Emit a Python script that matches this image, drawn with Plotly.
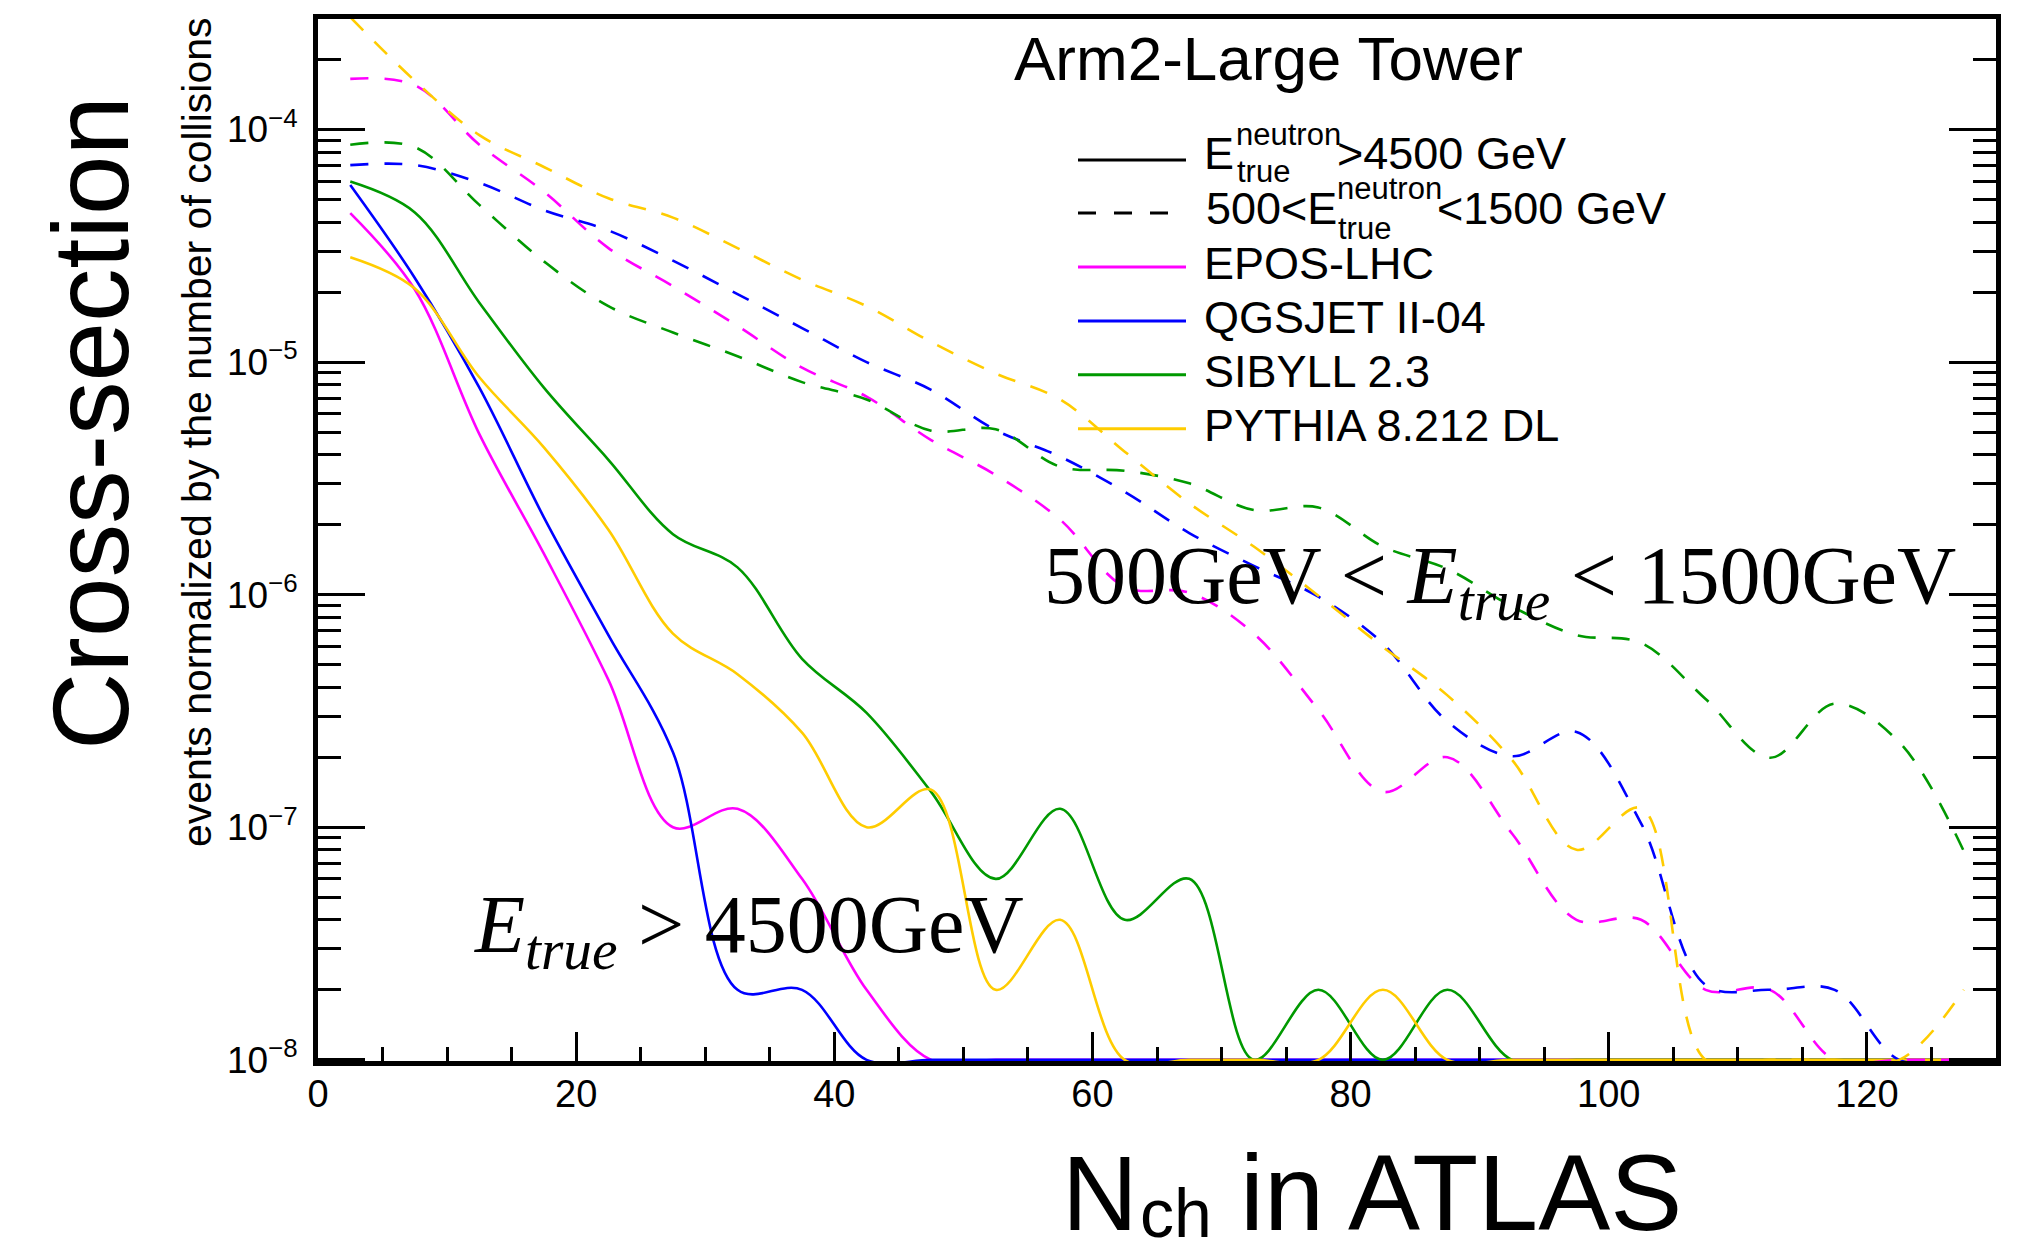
import plotly.graph_objects as go

# ---------------------------------------------------------------------------
# Data: events per N_ch bin, normalised by the number of collisions
# (Arm2 large tower, neutron energy selections, four hadronic interaction models)
# ---------------------------------------------------------------------------
nch = [2.5, 7.5, 12.5, 17.5, 22.5, 27.5, 32.5, 37.5, 42.5, 47.5, 52.5, 57.5, 62.5,
       67.5, 72.5, 77.5, 82.5, 87.5, 92.5, 97.5, 102.5, 107.5, 112.5, 117.5, 122.5, 127.5]

# E_true > 4500 GeV
epos_high = [4.37e-5, 2.05e-5, 4.9e-6, 1.5e-6, 4.3e-7, 1.0e-7, 1.2e-7, 6e-8, 2e-8, 0, 0, 0, 0,
             0, 0, 0, 0, 0, 0, 0, 0, 0, 0, 0, 0, 0]
qgsjet_high = [5.77e-5, 2.3e-5, 7.76e-6, 2.15e-6, 6.7e-7, 2.1e-7, 2e-8, 2e-8, 0, 0, 0, 0, 0,
               0, 0, 0, 0, 0, 0, 0, 0, 0, 0, 0, 0, 0]
sibyll_high = [5.97e-5, 4.4e-5, 1.8e-5, 7.76e-6, 3.8e-6, 1.82e-6, 1.31e-6, 5.3e-7, 3.1e-7,
               1.42e-7, 6e-8, 1.2e-7, 4e-8, 6e-8, 0, 2e-8, 0, 2e-8, 0, 0, 0, 0, 0, 0, 0, 0]
pythia_high = [2.82e-5, 2.07e-5, 8.6e-6, 4.3e-6, 1.9e-6, 6.8e-7, 4.55e-7, 2.55e-7, 1e-7,
               1.45e-7, 2e-8, 4e-8, 0, 0, 0, 0, 2e-8, 0, 0, 0, 0, 0, 0, 0, 0, 0]

# 500 GeV < E_true < 1500 GeV
epos_mid = [1.65e-4, 1.55e-4, 8.6e-5, 5.4e-5, 3.09e-5, 2.12e-5, 1.43e-5, 9.46e-6, 7.1e-6,
            4.62e-6, 3.27e-6, 2.1e-6, 1.08e-6, 1.02e-6, 6.8e-7, 3.2e-7, 1.42e-7, 2e-7,
            9.4e-8, 4e-8, 4e-8, 2e-8, 2e-8, 0, 0, 0]
qgsjet_mid = [7.03e-5, 7.03e-5, 5.9e-5, 4.5e-5, 3.68e-5, 2.73e-5, 1.96e-5, 1.4e-5, 1.0e-5,
              7.6e-6, 5.1e-6, 3.92e-6, 2.77e-6, 1.84e-6, 1.33e-6, 9.8e-7, 6.17e-7, 2.85e-7,
              2.02e-7, 2.57e-7, 1.04e-7, 2.1e-8, 2e-8, 2e-8, 0, 0]
sibyll_mid = [8.6e-5, 8.4e-5, 4.74e-5, 2.71e-5, 1.74e-5, 1.34e-5, 1.06e-5, 8.2e-6, 6.9e-6,
              5.07e-6, 5.14e-6, 3.55e-6, 3.41e-6, 3.01e-6, 2.31e-6, 2.37e-6, 1.61e-6, 1.29e-6,
              8.9e-7, 6.7e-7, 6.2e-7, 3.56e-7, 1.99e-7, 3.4e-7, 2.32e-7, 7.9e-8]
pythia_mid = [3.04e-4, 1.62e-4, 9.46e-5, 6.9e-5, 5.06e-5, 4.18e-5, 3.09e-5, 2.26e-5, 1.74e-5,
              1.22e-5, 8.93e-6, 6.9e-6, 4.12e-6, 2.47e-6, 1.61e-6, 9.9e-7, 5.96e-7, 3.69e-7,
              1.95e-7, 8e-8, 1.21e-7, 0, 0, 0, 0, 2e-8]

models = ["EPOS-LHC", "QGSJET II-04", "SIBYLL 2.3", "PYTHIA 8.212 DL"]
colors = ["#ff00ff", "#0000ff", "#009900", "#ffcc00"]
high_sets = [epos_high, qgsjet_high, sibyll_high, pythia_high]
mid_sets = [epos_mid, qgsjet_mid, sibyll_mid, pythia_mid]

y_decades = [1e-8, 1e-7, 1e-6, 1e-5, 1e-4]
y_decade_text = ["10<sup>\u22128</sup>", "10<sup>\u22127</sup>", "10<sup>\u22126</sup>",
                 "10<sup>\u22125</sup>", "10<sup>\u22124</sup>"]
x_ticks = [0, 20, 40, 60, 80, 100, 120]

Y_FLOOR = 1e-8          # empty bins sit on the frame minimum of the log scale
LOG_RANGE = [-8.005, -3.525]

SANS = "Liberation Sans, Arial, Helvetica, sans-serif"
SERIF = "Liberation Serif, Times New Roman, serif"

W, H = 2029, 1238
L, R, T, B = 318, 1996, 19, 1061   # plot-area edges in pixels


def px(x):
    return (x - L) / (R - L)


def py(y):
    return (B - y) / (B - T)


def on_axis(vals):
    return [v if v > Y_FLOOR else Y_FLOOR for v in vals]


fig = go.Figure()

for name, col, hi in zip(models, colors, high_sets):
    fig.add_trace(go.Scatter(
        x=nch, y=on_axis(hi), mode="lines", name=name + " (E>4500 GeV)",
        line=dict(color=col, width=2.6, shape="spline", smoothing=1.0),
        showlegend=False, hoverinfo="skip"))

for name, col, md in zip(models, colors, mid_sets):
    fig.add_trace(go.Scatter(
        x=nch, y=on_axis(md), mode="lines", name=name + " (500-1500 GeV)",
        line=dict(color=col, width=2.6, shape="spline", smoothing=1.0, dash="18px,16px"),
        showlegend=False, hoverinfo="skip"))

minor_vals = [k * d for d in [1e-8, 1e-7, 1e-6, 1e-5, 1e-4] for k in range(2, 10)
              if k * d < 3e-4]

fig.update_xaxes(
    range=[0, 130], showgrid=False, zeroline=False,
    showline=True, linecolor="black", linewidth=5, mirror=True,
    tickmode="array", tickvals=x_ticks, ticktext=[str(t) for t in x_ticks],
    ticks="inside", ticklen=29, tickwidth=2.5, tickcolor="black",
    minor=dict(dtick=5, tick0=0, ticks="inside", ticklen=14, tickwidth=2.5,
               tickcolor="black", showgrid=False),
    tickfont=dict(family=SANS, size=38, color="black"),
    ticklabelstandoff=-5)

fig.update_yaxes(
    type="log", range=LOG_RANGE, showgrid=False, zeroline=False,
    showline=True, linecolor="black", linewidth=5, mirror="ticks",
    tickmode="array", tickvals=y_decades, ticktext=y_decade_text,
    ticks="inside", ticklen=47, tickwidth=2.5, tickcolor="black",
    minor=dict(tickmode="array", tickvals=minor_vals, ticks="inside", ticklen=23,
               tickwidth=2.5, tickcolor="black", showgrid=False),
    tickfont=dict(family=SANS, size=37, color="black"),
    ticklabelstandoff=8)

ann = []


def text(x, y, s, size, family=SANS, xanchor="left", yanchor="middle", angle=0):
    ann.append(dict(x=px(x), y=py(y), xref="paper", yref="paper", text=s,
                    showarrow=False, xanchor=xanchor, yanchor=yanchor,
                    textangle=angle, font=dict(family=family, size=size, color="black")))


# axis titles
text(91, 423, "Cross-section", 107, xanchor="center", angle=-90)
text(197, 432, "events normalized by the number of collisions", 41, xanchor="center", angle=-90)
text(1060, 1193, "N", 105)
text(1138, 1213, "ch", 68)
text(1238, 1192, "in ATLAS", 108)

# panel title
text(1012, 59, "Arm2-Large Tower", 62)

# energy-range labels
text(472, 930, "<i>E<sub>true</sub></i> &gt; 4500GeV", 82, family=SERIF)
text(1042, 581, "500GeV &lt; <i>E<sub>true</sub></i> &lt; 1500GeV", 82, family=SERIF)

# legend
leg_x0, leg_x1 = 1078, 1186
shapes = []


def sample(y, color, dash="solid"):
    shapes.append(dict(type="line", xref="paper", yref="paper",
                       x0=px(leg_x0), x1=px(leg_x1), y0=py(y), y1=py(y),
                       line=dict(color=color, width=3, dash=dash)))


sample(160, "black")
text(1202, 153.5, "E", 45)
text(1234, 134.6, "neutron", 31)
text(1235, 171.3, "true", 31)
text(1334.5, 153.5, "&gt;4500 GeV", 45)

sample(213, "black", dash="18px,18px")
text(1204, 208.5, "500&lt;E", 45)
text(1335, 189, "neutron", 31)
text(1336, 228, "true", 31)
text(1435, 208.5, "&lt;1500 GeV", 45)

for i, (name, col) in enumerate(zip(models, colors)):
    yl = 267 + 53.9 * i
    sample(yl, col)
    text(1202, yl - 3.5, name, 45)

fig.update_layout(
    width=W, height=H,
    margin=dict(l=L, r=W - R, t=T, b=H - B, pad=0),
    paper_bgcolor="white", plot_bgcolor="white",
    font=dict(family=SANS, color="black"),
    annotations=ann, shapes=shapes, showlegend=False)

fig.write_html("out.html", post_script="document.body.style.margin='0';")
